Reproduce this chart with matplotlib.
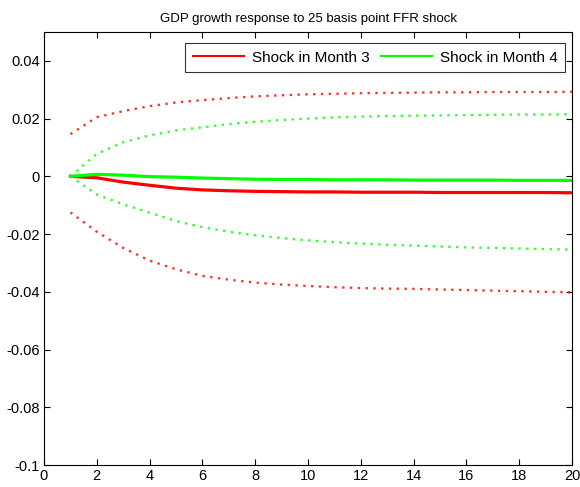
import numpy as np
import matplotlib.pyplot as plt

plt.rcParams['font.family'] = ['Liberation Sans', 'DejaVu Sans']

months = np.arange(1, 21)

# shock in month 3
red_mid = [0.0, -0.0005, -0.0020, -0.0031, -0.0041, -0.0047, -0.0050, -0.0052, -0.0053, -0.0054,
           -0.0054, -0.0055, -0.0055, -0.0055, -0.0056, -0.0056, -0.0056, -0.0056, -0.0056, -0.0057]
red_hi = [0.0146, 0.0205, 0.0226, 0.0243, 0.0256, 0.0264, 0.0271, 0.0277, 0.0281, 0.0284,
          0.0286, 0.0288, 0.0289, 0.0290, 0.0291, 0.0291, 0.0292, 0.0292, 0.0292, 0.0293]
red_lo = [-0.0125, -0.0192, -0.0248, -0.0292, -0.0322, -0.0345, -0.0358, -0.0368, -0.0375, -0.0380,
          -0.0384, -0.0387, -0.0389, -0.0390, -0.0392, -0.0394, -0.0396, -0.0398, -0.0400, -0.0402]

# shock in month 4
green_mid = [0.0, 0.0007, 0.0004, -0.0001, -0.0003, -0.0006, -0.0008, -0.0010, -0.0011, -0.0011,
             -0.0012, -0.0012, -0.0012, -0.0013, -0.0013, -0.0013, -0.0013, -0.0014, -0.0014, -0.0014]
green_hi = [0.0, 0.0078, 0.0118, 0.0142, 0.0159, 0.0170, 0.0181, 0.0189, 0.0195, 0.0200,
            0.0204, 0.0207, 0.0209, 0.0210, 0.0211, 0.0212, 0.0213, 0.0214, 0.0214, 0.0215]
green_lo = [0.0, -0.0063, -0.0097, -0.0126, -0.0155, -0.0176, -0.0192, -0.0204, -0.0214, -0.0222,
            -0.0228, -0.0233, -0.0237, -0.0240, -0.0243, -0.0246, -0.0248, -0.0250, -0.0252, -0.0254]

W, H = 580, 487
fig = plt.figure(figsize=(W/100, H/100), dpi=100)
ax = fig.add_axes([44/W, 1 - 465/H, (572-44)/W, (465-32)/H])

dot = (0, (1, 2.3))
ax.plot(months, red_mid, color='red', lw=2.3, label='Shock in Month 3')
ax.plot(months, green_mid, color='#00ff00', lw=2.3, label='Shock in Month 4')
ax.plot(months, red_hi, color='red', lw=1.7, ls=dot, alpha=0.8)
ax.plot(months, red_lo, color='red', lw=1.7, ls=dot, alpha=0.8)
ax.plot(months, green_hi, color='#00ff00', lw=1.7, ls=dot, alpha=0.8)
ax.plot(months, green_lo, color='#00ff00', lw=1.7, ls=dot, alpha=0.8)

ax.set_xlim(0, 20)
ax.set_ylim(-0.1, 0.05)
ax.set_xticks(np.arange(0, 21, 2))
ax.set_yticks([-0.1, -0.08, -0.06, -0.04, -0.02, 0, 0.02, 0.04])
ax.set_yticklabels(['-0.1', '-0.08', '-0.06', '-0.04', '-0.02', '0', '0.02', '0.04'])
ax.tick_params(direction='in', top=True, right=True, labelsize=10.5, length=4, width=0.8, pad=3)
for s in ax.spines.values():
    s.set_linewidth(0.8)

ax.set_title('GDP growth response to 25 basis point FFR shock', fontsize=9.5, pad=7)

leg = ax.legend(loc='upper right', bbox_to_anchor=(565/W, 1 - 43/H),
                bbox_transform=fig.transFigure, borderaxespad=0,
                ncol=2, fontsize=11, frameon=True, fancybox=False,
                edgecolor='black', handlelength=3.35, columnspacing=0.75,
                handletextpad=0.5, borderpad=0.5)
leg.get_frame().set_linewidth(0.8)
for h in leg.get_lines():
    h.set_linewidth(1.5)

fig.savefig('out.png', dpi=100)
